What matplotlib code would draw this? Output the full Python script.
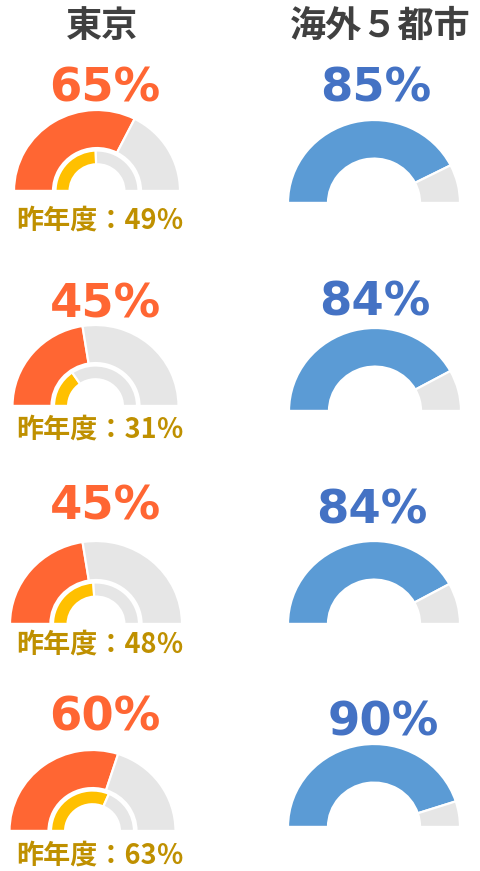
import matplotlib
matplotlib.use("Agg")
import matplotlib.pyplot as plt

# ---- data ----
column_titles = ["東京", "海外５都市"]
tokyo_rate = [65, 45, 45, 60]
tokyo_prev_rate = [49, 31, 48, 63]
overseas_rate = [85, 84, 84, 90]
prev_label = "昨年度："

# ---- colours ----
ORANGE = "#FF6633"
YELLOW = "#FFC000"
GREY = "#E6E6E6"
BLUE_RING = "#5B9BD5"
BLUE_TEXT = "#4472C4"
GOLD = "#BF9000"
TITLE = "#404040"

W, H = 480, 871
fig = plt.figure(figsize=(W / 100, H / 100), dpi=100)
fig.patch.set_facecolor("white")

CJK = ["Noto Sans CJK JP", "DejaVu Sans"]
NUM = ["DejaVu Sans"]

# gauge layout in pixels: (centre x, baseline y, radius x, radius y)
left_layout = [(97, 191, 83, 81), (95.5, 406, 83, 81), (96, 624, 86, 83), (92.5, 831, 83, 81)]
right_layout = [(374, 203, 86, 83), (375, 411, 86, 83), (374, 624, 86, 83), (374, 827, 86, 83)]
left_value_base = [102, 317, 520, 730]
right_value_base = [102, 315, 523, 735]
prev_y = [221, 430, 645, 856]


def gauge_axes(cx, base, rx, ry):
    ax = fig.add_axes([(cx - rx) / W, 1 - base / H, 2 * rx / W, ry / H])
    ax.set_axis_off()
    return ax


def half_ring(ax, value, color, radius, width):
    ax.pie([value, 100 - value, 100], radius=radius, startangle=180,
           counterclock=False, colors=[color, GREY, "none"],
           wedgeprops=dict(width=width, edgecolor="white", linewidth=1.6))
    ax.set_aspect("auto")
    ax.set_xlim(-1, 1)
    ax.set_ylim(0, 1)


def px(x, y):
    return x / W, 1 - y / H


# column titles
fig.text(*px(102, 26), column_titles[0], ha="center", va="center",
         fontsize=26, fontweight="bold", color=TITLE, family=CJK)
fig.text(*px(380, 26), column_titles[1], ha="center", va="center",
         fontsize=26, fontweight="bold", color=TITLE, family=CJK)

# Tokyo gauges: outer ring this year, inner ring last year
for i, (cx, base, rx, ry) in enumerate(left_layout):
    ax = gauge_axes(cx, base, rx, ry)
    half_ring(ax, tokyo_rate[i], ORANGE, 1.0, 0.47)
    half_ring(ax, tokyo_prev_rate[i], YELLOW, 0.5, 0.17)
    fig.text(*px(105, left_value_base[i]), f"{tokyo_rate[i]}%", ha="center",
             va="baseline", fontsize=33.5, fontweight="bold", color=ORANGE,
             family=NUM)
    fig.text(*px(100, prev_y[i]), f"{prev_label}{tokyo_prev_rate[i]}％",
             ha="center", va="center", fontsize=19.5, fontweight="bold",
             color=GOLD, family=CJK)

# overseas gauges
right_value_x = [376, 375, 372, 383]
for i, (cx, base, rx, ry) in enumerate(right_layout):
    ax = gauge_axes(cx, base, rx, ry)
    half_ring(ax, overseas_rate[i], BLUE_RING, 1.0, 0.465)
    fig.text(*px(right_value_x[i], right_value_base[i]), f"{overseas_rate[i]}%",
             ha="center", va="baseline", fontsize=33.5, fontweight="bold",
             color=BLUE_TEXT, family=NUM)

fig.savefig("out.png", dpi=100, facecolor="white")
